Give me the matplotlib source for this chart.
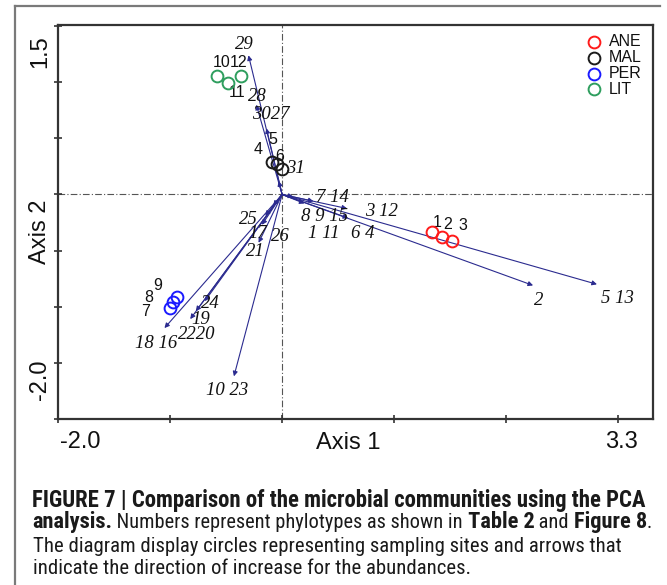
import matplotlib
matplotlib.use('Agg')
import matplotlib.pyplot as plt
from matplotlib import font_manager
from matplotlib.lines import Line2D

W, H = 667, 585

# ---------------- data ----------------
x_min, x_max = -2.0, 3.31
y_min, y_max = -2.0, 1.51
x_label_lo, x_label_hi = "-2.0", "3.3"
y_label_lo, y_label_hi = "-2.0", "1.5"

# phylotype arrow tips (Axis 1, Axis 2)
arrow_x = [-0.30, -0.23, -0.14, -0.03, 0.10, 0.28, 0.20, 0.58, 0.59, 2.24, 2.81,
           -0.15, -0.18, -0.21, -0.08, -0.69, -0.77, -0.82, -1.05, -0.43]
arrow_y = [1.24, 0.80, 0.59, 0.12, -0.02, -0.06, -0.08, -0.125, -0.21, -0.81, -0.80,
           -0.19, -0.27, -0.43, -0.10, -0.95, -1.04, -1.11, -1.19, -1.62]

# phylotype labels
phylo_labels = ["29", "28", "3027", "31", "7 14", "3 12", "8 9 15", "1 11", "6 4",
                "2", "5 13", "25", "17", "26", "21", "24", "19", "2220", "18 16", "10 23"]
phylo_x = [-0.34, -0.22, -0.10, 0.12, 0.45, 0.89, 0.38, 0.37, 0.72,
           2.29, 2.99, -0.30, -0.22, -0.02, -0.24, -0.64, -0.73, -0.76, -1.12, -0.49]
phylo_y = [1.34, 0.87, 0.71, 0.23, -0.03, -0.15, -0.20, -0.35, -0.35,
           -0.94, -0.93, -0.22, -0.35, -0.37, -0.51, -0.97, -1.11, -1.25, -1.33, -1.75]

# sampling sites
groups = ["ANE", "MAL", "PER", "LIT"]
group_colors = ["#ff1a1a", "#1a1a1a", "#1a1aff", "#2e9e5e"]
site_x = {"ANE": [1.34, 1.43, 1.52], "MAL": [-0.09, -0.045, 0.0],
          "PER": [-1.00, -0.97, -0.94], "LIT": [-0.58, -0.48, -0.37]}
site_y = {"ANE": [-0.33, -0.375, -0.41], "MAL": [0.29, 0.27, 0.23],
          "PER": [-1.01, -0.96, -0.91], "LIT": [1.06, 0.99, 1.06]}

# site number labels
site_labels = ["1", "2", "3", "4", "5", "6", "7", "8", "9", "10", "11", "12"]
site_lab_x = [1.38, 1.48, 1.61, -0.21, -0.08, -0.02, -1.22, -1.19, -1.11, -0.54, -0.40, -0.39]
site_lab_y = [-0.25, -0.27, -0.28, 0.40, 0.49, 0.34, -1.04, -0.92, -0.81, 1.18, 0.91, 1.18]

# ---------------- figure ----------------
fig = plt.figure(figsize=(W / 100, H / 100), dpi=100)
fig.patch.set_facecolor('white')

def fx(px):
    return px / W

def fy(py):
    return 1 - py / H

# outer page frame
fig.add_artist(Line2D([fx(15), fx(15)], [fy(6), fy(585)], color='#7a7a7a', lw=1.6))
fig.add_artist(Line2D([fx(15), fx(660)], [fy(6), fy(6)], color='#7a7a7a', lw=1.6))

ax = fig.add_axes([fx(58), fy(419), 595 / W, 394 / H])
ax.set_xlim(x_min, x_max)
ax.set_ylim(y_min, y_max)
for s in ax.spines.values():
    s.set_color('#333333')
    s.set_linewidth(1.6)

ax.set_xticks([-2, -1, 0, 1, 2, 3])
ax.set_yticks([-2.0, -1.5, -1.0, -0.5, 0, 0.5, 1.0, 1.5])
ax.set_xticklabels([])
ax.set_yticklabels([])
ax.tick_params(direction='inout', length=6, width=1.2, color='#333333')

ax.axhline(0, color='#555555', lw=0.8, ls=(0, (6, 2, 1, 2)), zorder=1)
ax.axvline(0, color='#555555', lw=0.8, ls=(0, (6, 2, 1, 2)), zorder=1)

arrow_color = '#2b2b8f'
for xa, ya in zip(arrow_x, arrow_y):
    ax.annotate('', xy=(xa, ya), xytext=(0, 0),
                arrowprops=dict(arrowstyle='-|>', color=arrow_color, lw=0.8,
                                mutation_scale=7, shrinkA=0, shrinkB=0), zorder=3)

for t, xl, yl in zip(phylo_labels, phylo_x, phylo_y):
    ax.text(xl, yl, t, fontsize=13.5, family='Liberation Serif', style='italic',
            ha='center', va='center', color='#111111', zorder=4)

for g, c in zip(groups, group_colors):
    ax.plot(site_x[g], site_y[g], 'o', ms=8.5, mfc='none', mec=c, mew=1.4, zorder=5)

for t, xl, yl in zip(site_labels, site_lab_x, site_lab_y):
    ax.text(xl, yl, t, fontsize=11.5, family='Liberation Sans', ha='center', va='center',
            color='#111111', zorder=4)

# legend
leg_y = [42, 58, 74, 89]
for g, c, py in zip(groups, group_colors, leg_y):
    fig.add_artist(Line2D([fx(594)], [fy(py)], marker='o', ms=8.5, mfc='none',
                          mec=c, mew=1.4, ls='none'))
    fig.text(fx(609), fy(py), g, fontsize=11.5, family='Liberation Sans',
             ha='left', va='center', color='#111111')

# axis labels and end values
lab_kw = dict(fontsize=17, family='Liberation Sans', color='#111111')
fig.text(fx(80), fy(442), x_label_lo, ha='center', va='center', **lab_kw)
fig.text(fx(621), fy(442), x_label_hi, ha='center', va='center', **lab_kw)
fig.text(fx(348), fy(443), "Axis 1", ha='center', va='center', **lab_kw)
fig.text(fx(40), fy(52), y_label_hi, ha='center', va='center', rotation=90, **lab_kw)
fig.text(fx(40), fy(380), y_label_lo, ha='center', va='center', rotation=90, **lab_kw)
fig.text(fx(40), fy(232), "Axis 2", ha='center', va='center', rotation=90, **lab_kw)

# caption
def has_font(name):
    try:
        font_manager.findfont(font_manager.FontProperties(family=name), fallback_to_default=False)
        return True
    except Exception:
        return False

cap_family = 'Liberation Sans'
for cand in ['Liberation Sans Narrow', 'DejaVu Sans Condensed', 'Roboto Condensed',
             'Open Sans Condensed', 'Liberation Sans']:
    if has_font(cand):
        cap_family = cand
        break

caption = [
    [("FIGURE 7 | Comparison of the microbial communities using the PCA", 'bold')],
    [("analysis.", 'bold'), (" Numbers represent phylotypes as shown in", 'normal'),
     (" Table 2", 'bold'), (" and ", 'normal'), ("Figure 8", 'bold'), (".", 'normal')],
    [("The diagram display circles representing sampling sites and arrows that", 'normal')],
    [("indicate the direction of increase for the abundances.", 'normal')],
]
cap_y = [500, 522, 546, 569]
cap_x = [32, 32, 33, 33]
cap_target = [616, 619, 584, None]   # reference line widths (px)

fig.canvas.draw()
renderer = fig.canvas.get_renderer()

def text_width(s, weight, size):
    t1 = fig.text(0, 0, "X" + s + "X", fontsize=size, family=cap_family, fontweight=weight)
    t2 = fig.text(0, 0, "XX", fontsize=size, family=cap_family, fontweight=weight)
    w = t1.get_window_extent(renderer).width - t2.get_window_extent(renderer).width
    t1.remove()
    t2.remove()
    return w

base = {
    'bold': 10 * cap_target[0] / text_width(caption[0][0][0], 'bold', 10),
    'normal': 10 * cap_target[2] / text_width(caption[2][0][0], 'normal', 10),
}

for line, py, px, target in zip(caption, cap_y, cap_x, cap_target):
    sizes = dict(base)
    if target is not None and len(line) > 1:
        total = sum(text_width(s, w, sizes[w]) for s, w in line)
        k = target / total
        sizes = {w: v * k for w, v in sizes.items()}
    x = px
    for s, weight in line:
        fig.text(fx(x), fy(py), s, fontsize=sizes[weight], family=cap_family, fontweight=weight,
                 ha='left', va='center', color='#1a1a1a')
        x += text_width(s, weight, sizes[weight])

fig.savefig('out.png', dpi=100)
